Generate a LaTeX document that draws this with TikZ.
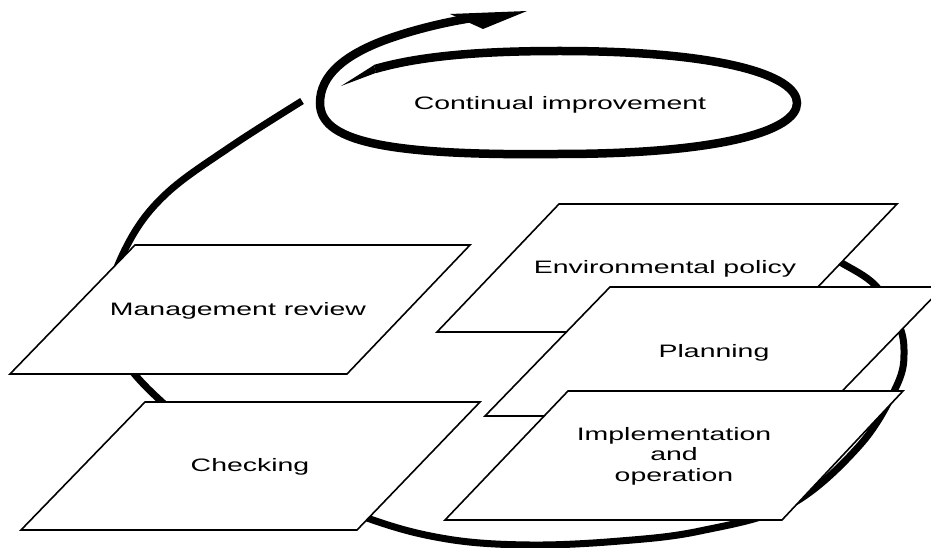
\documentclass[tikz,border=0pt]{standalone}
\usepackage{fontspec}
\setmainfont{Liberation Sans}[FakeStretch=1.58]
\begin{document}
\begin{tikzpicture}[x=1pt,y=-1pt,
  card/.style={draw=black, fill=white, line width=1.6pt, line join=miter},
  txt/.style={font=\fontsize{18}{20.5}\selectfont, align=center, inner sep=0pt},
  track/.style={line width=7pt, line cap=butt},
  spiralline/.style={line width=8.5pt, line cap=butt}]
\useasboundingbox (0,0) rectangle (931,548);
\clip (0,0) rectangle (931,548);

% big loop behind the cards
\draw[track] plot[smooth, tension=0.6] coordinates {(302,101) (230,147) (167,193) (130,240) (108,300) (118,350) (162,402) (250,470) (367,518) (447,539) (530,545) (620,541) (700,531) (790,505) (860,445) (897,385) (904,350) (897,320) (875,285) (840,262) (800,240)};

% spiral of continual improvement
\fill (341,86) -- (373.9,65.2) -- (376.1,72.8) -- cycle;
\draw[spiralline] (375,69) .. controls (420,56) and (480,51) .. (560,51)
  .. controls (720,51) and (797,75) .. (797,103)
  .. controls (797,131) and (720,154) .. (558,154)
  .. controls (380,156) and (320,140) .. (320,103)
  .. controls (320,75) and (345,55) .. (385,40)
  .. controls (410,31) and (440,23) .. (472,18);
\fill (450,14) -- (527,11) -- (483,29) -- cycle;
\node[txt, anchor=base] (ci) at (560,110) {Continual improvement};

% cards
\draw[card] (135,245) -- (470,245) -- (347,374) -- (10,374) -- cycle;
\node[txt, anchor=base] (mr) at (238,315) {Management review};

\draw[card] (145,402) -- (480,402) -- (357,530) -- (21,530) -- cycle;
\node[txt, anchor=base] (ch) at (250,471) {Checking};

\draw[card] (559,204) -- (897,204) -- (775,332) -- (437,332) -- cycle;
\node[txt, anchor=base] (ep) at (665,273) {Environmental policy};

\draw[card] (610,287) -- (943,287) -- (818,416) -- (485,416) -- cycle;
\node[txt, anchor=base] (pl) at (714,357) {Planning};

\draw[card] (568,391) -- (903,391) -- (782,520) -- (445,520) -- cycle;
\node[txt] (io) at (674,456) {Implementation\\and\\operation};
\end{tikzpicture}
\end{document}
